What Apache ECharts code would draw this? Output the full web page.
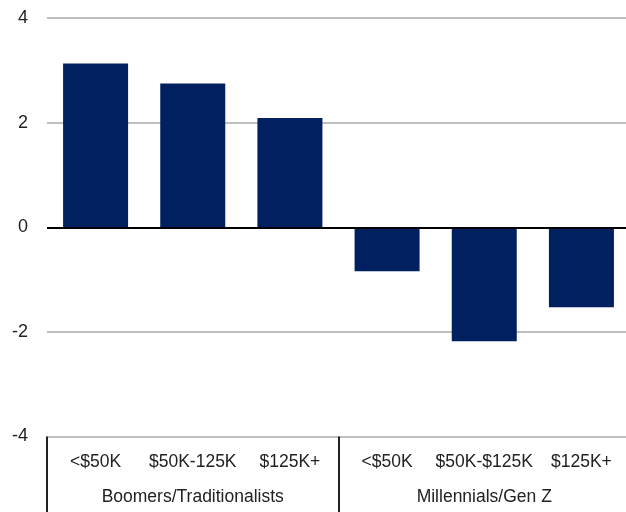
<!DOCTYPE html>
<html><head><meta charset="utf-8">
<script src="https://cdn.jsdelivr.net/npm/echarts@6/dist/echarts.min.js"></script>
<style>html,body{margin:0;padding:0;background:#fff}#c{width:626px;height:512px}</style>
</head><body><div id="c"></div>
<script>
var categories = ['<$50K', '$50K-125K', '$125K+', '<$50K', '$50K-$125K', '$125K+'];
var groups = ['Boomers/Traditionalists', 'Millennials/Gen Z'];
var values = [3.13, 2.75, 2.09, -0.84, -2.18, -1.53];
var yTicks = {min: -4, max: 4, interval: 2};

var font = 'Liberation Sans';
var chart = echarts.init(document.getElementById('c'));
chart.setOption({
  animation: false,
  grid: {left: 47, top: 18, right: -4, bottom: 75.5, containLabel: false, outerBoundsMode: 'none'},
  xAxis: [{
    type: 'category', data: categories, position: 'bottom',
    axisLine: {show: false}, axisTick: {show: false},
    axisLabel: {color: '#222', fontFamily: font, fontSize: 17.5, margin: 16.5, interval: 0}
  }, {
    type: 'category', data: groups, position: 'bottom',
    axisLine: {show: false},
    axisTick: {show: true, length: 80, lineStyle: {color: '#222', width: 2}},
    axisLabel: {color: '#222', fontFamily: font, fontSize: 17.5, margin: 51.5, interval: 0}
  }],
  yAxis: {
    type: 'value', min: yTicks.min, max: yTicks.max, interval: yTicks.interval,
    axisLine: {show: false}, axisTick: {show: false},
    axisLabel: {color: '#222', fontFamily: font, fontSize: 18, margin: 19},
    splitLine: {lineStyle: {color: '#bfbfbf', width: 2}}
  },
  series: [{
    type: 'bar', data: values, xAxisIndex: 0, barWidth: 65,
    itemStyle: {color: '#002060'},
    markLine: {silent: true, symbol: 'none', label: {show: false},
      lineStyle: {color: '#000', width: 2, type: 'solid'},
      data: [{yAxis: 0}]}
  }]
});
</script></body></html>
